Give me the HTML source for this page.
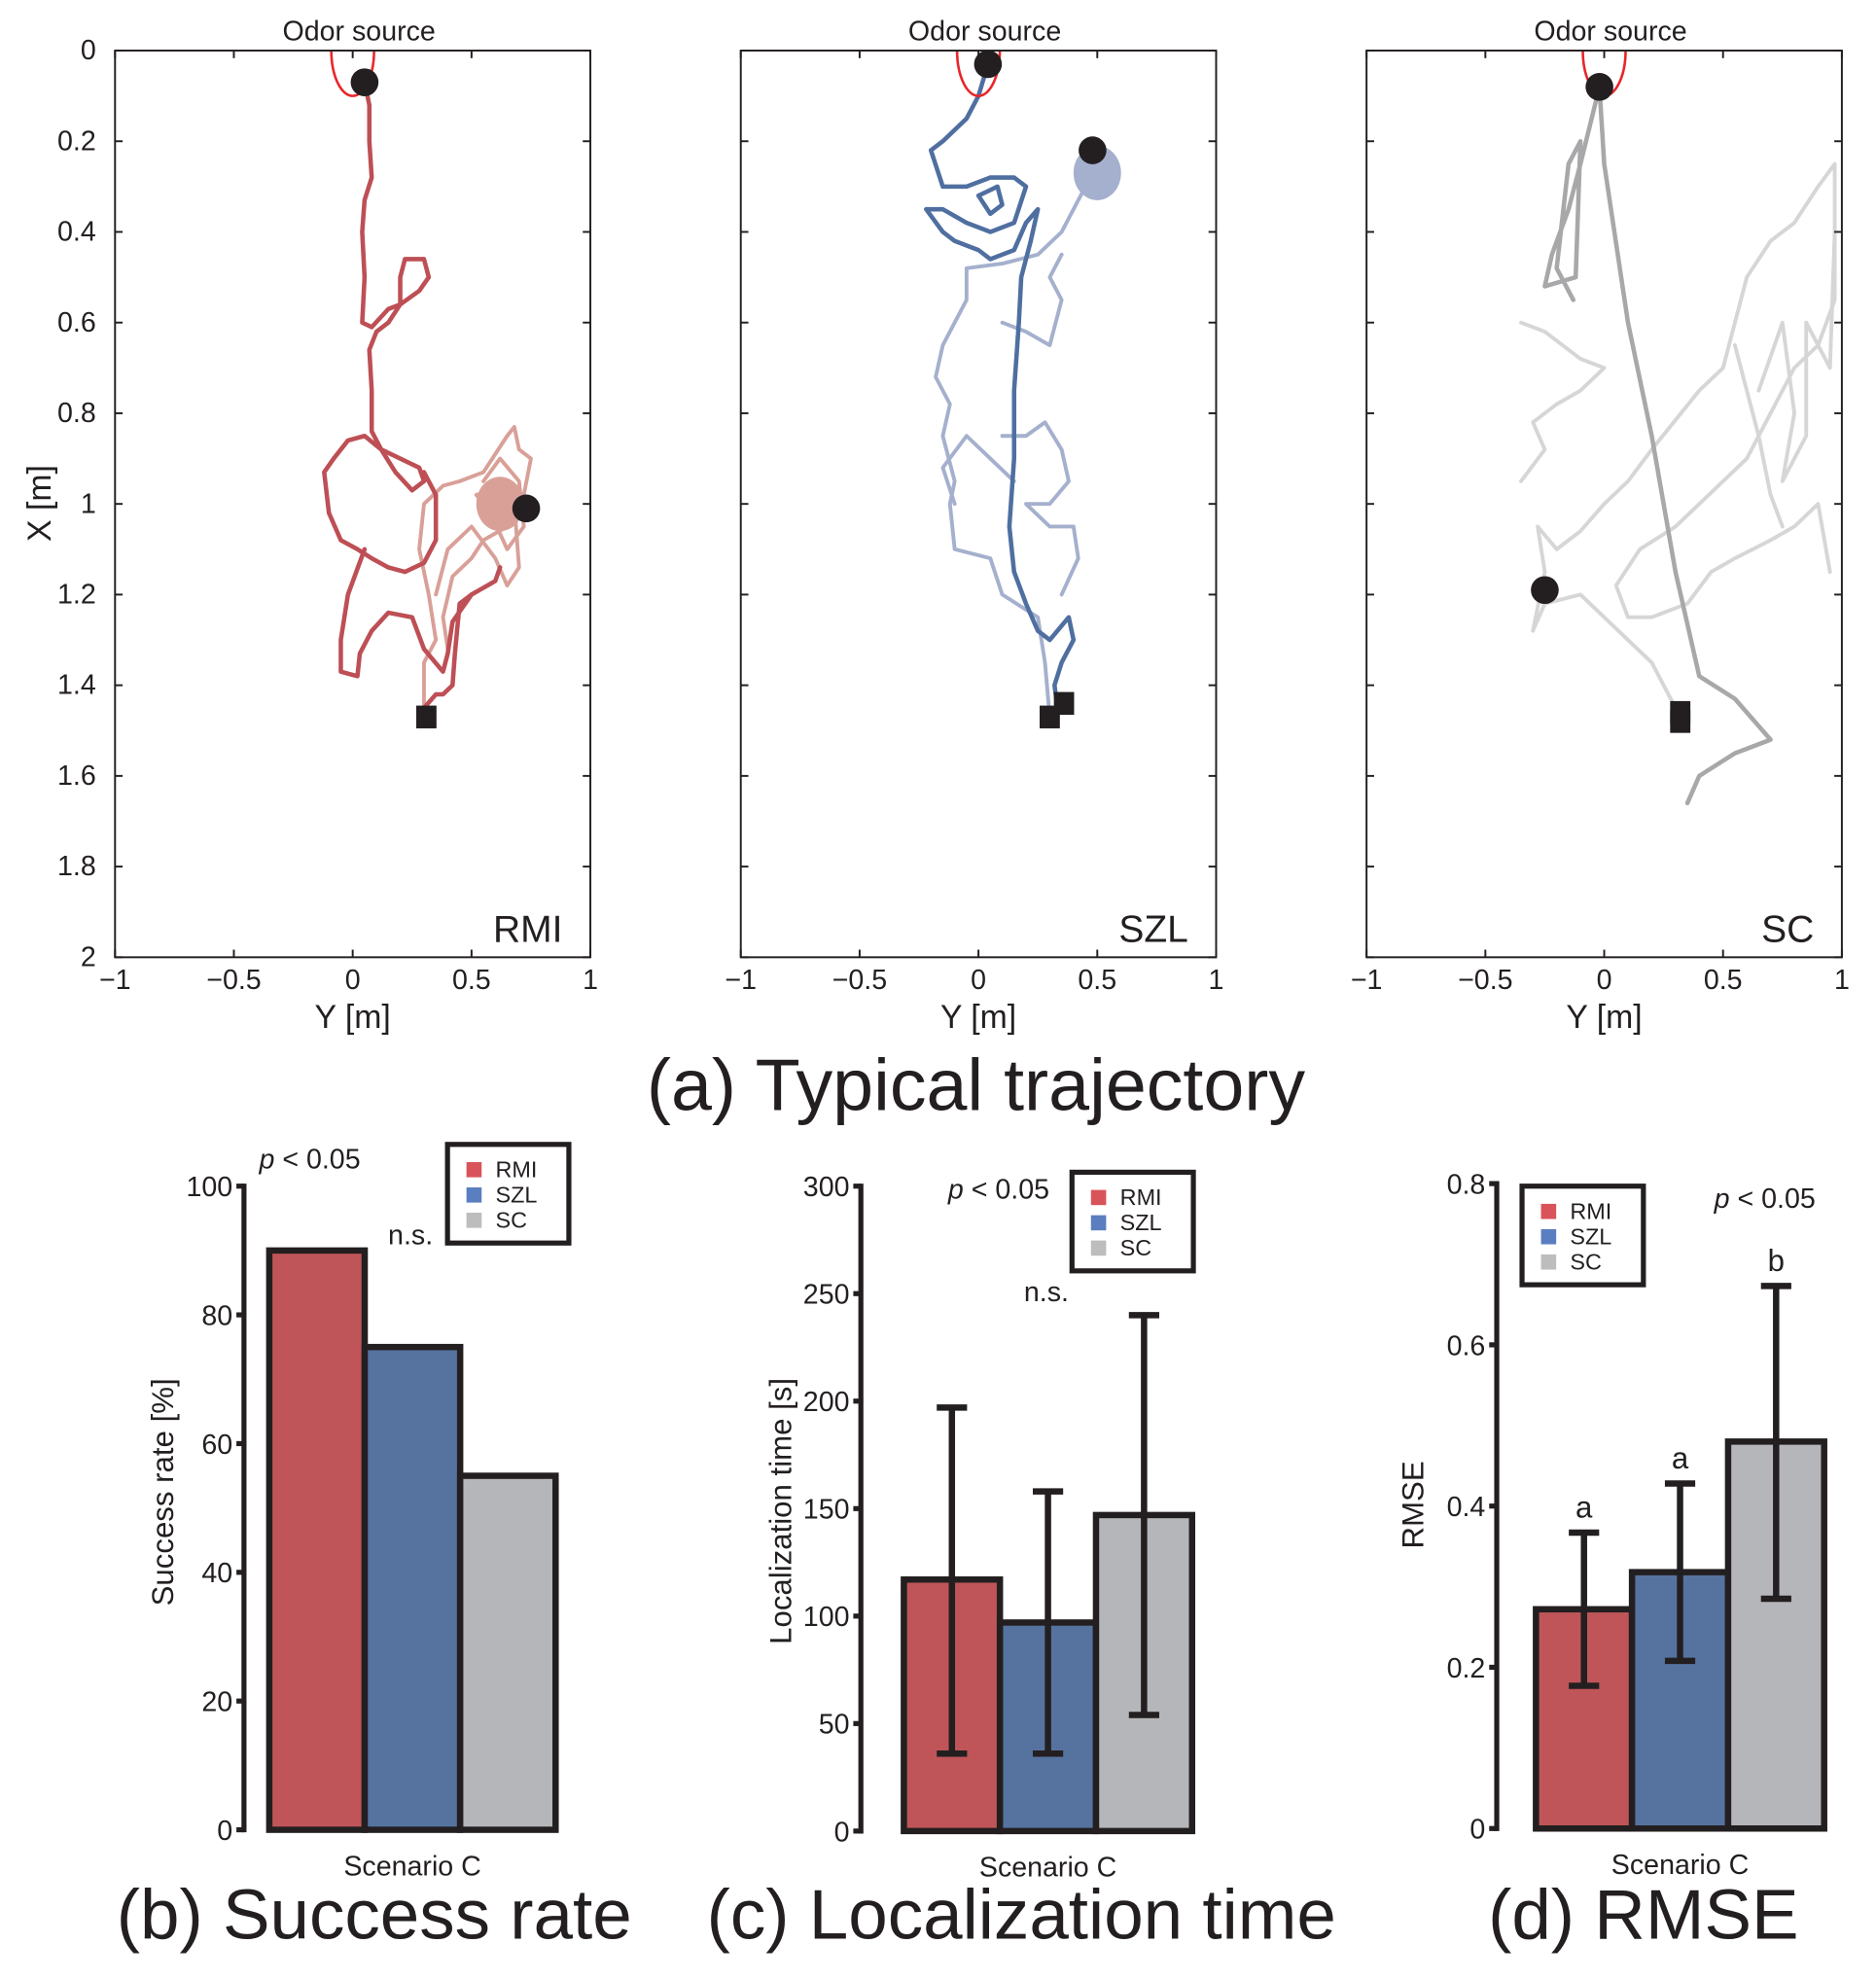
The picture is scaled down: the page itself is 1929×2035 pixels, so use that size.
<!DOCTYPE html>
<html><head><meta charset="utf-8"><style>
html,body{margin:0;padding:0;background:#fff}
svg{display:block}
text{font-family:"Liberation Sans",Arial,sans-serif;fill:#231f20}
</style></head><body>
<svg id="fig" width="1929" height="2035" viewBox="0 0 1484 1565" preserveAspectRatio="none" xmlns="http://www.w3.org/2000/svg"></svg>
<script>
// ---------- data ----------
const trajPanels = ["RMI","SZL","SC"];
const yTicksA = [0,0.2,0.4,0.6,0.8,1,1.2,1.4,1.6,1.8,2];
const yTickLabelsA = ["0","0.2","0.4","0.6","0.8","1","1.2","1.4","1.6","1.8","2"];
const xTicksA = [-1,-0.5,0,0.5,1];
const xTickLabelsA = ["\u22121","\u22120.5","0","0.5","1"];
const rmiDark1 = [[0.05,0.07],[0.07,0.12],[0.07,0.2],[0.08,0.28],[0.05,0.33],[0.04,0.4],[0.05,0.5],[0.04,0.6],[0.08,0.61],[0.15,0.57],[0.2,0.56],[0.28,0.53],[0.32,0.5],[0.3,0.46],[0.22,0.46],[0.2,0.5],[0.2,0.56],[0.15,0.6],[0.1,0.62],[0.07,0.66],[0.08,0.75],[0.08,0.84],[0.12,0.88],[0.2,0.9],[0.28,0.92],[0.3,0.95],[0.25,0.97],[0.18,0.93],[0.12,0.88],[0.05,0.85],[-0.02,0.86],[-0.08,0.9],[-0.12,0.93],[-0.1,1.02],[-0.05,1.08],[0.02,1.1],[0.08,1.12],[0.15,1.14],[0.22,1.15],[0.3,1.13],[0.35,1.08],[0.35,0.98],[0.3,0.93]];
const rmiDark2 = [[0.05,1.1],[-0.02,1.2],[-0.05,1.3],[-0.05,1.37],[0.02,1.38],[0.03,1.33],[0.08,1.28],[0.15,1.24],[0.25,1.25],[0.3,1.32],[0.38,1.37],[0.4,1.33],[0.42,1.26],[0.5,1.2],[0.6,1.17],[0.62,1.14]];
const rmiDark3 = [[0.3,1.45],[0.35,1.42],[0.38,1.42],[0.42,1.4],[0.43,1.33],[0.45,1.22],[0.5,1.2]];
const rmiLight1 = [[0.3,1.45],[0.3,1.35],[0.35,1.3],[0.32,1.2],[0.28,1.1],[0.3,1.0],[0.38,0.96],[0.45,0.95],[0.55,0.93],[0.65,0.85],[0.68,0.83],[0.7,0.88],[0.75,0.9],[0.72,0.98],[0.65,1.05],[0.55,1.08],[0.5,1.12],[0.42,1.16],[0.38,1.25],[0.4,1.32]];
const rmiLight2 = [[0.55,0.95],[0.62,0.9],[0.7,0.95],[0.72,1.05],[0.65,1.1],[0.58,1.02],[0.52,0.98],[0.6,0.97],[0.68,1.0],[0.7,1.14],[0.65,1.18],[0.6,1.12],[0.5,1.05],[0.4,1.1],[0.35,1.2]];
const szlDark1 = [[0.04,0.03],[0.0,0.1],[-0.05,0.15],[-0.15,0.2],[-0.2,0.22],[-0.15,0.3],[-0.05,0.3],[0.05,0.28],[0.15,0.28],[0.2,0.3],[0.15,0.38],[0.05,0.4],[-0.05,0.38],[-0.15,0.35],[-0.22,0.35],[-0.15,0.4],[-0.1,0.42],[0.0,0.44],[0.05,0.46],[0.15,0.44],[0.2,0.38],[0.25,0.35],[0.22,0.42],[0.18,0.5],[0.17,0.6],[0.15,0.75],[0.15,0.9],[0.13,1.05],[0.15,1.15],[0.2,1.22],[0.25,1.28],[0.3,1.3],[0.38,1.25],[0.4,1.3],[0.35,1.35],[0.32,1.4],[0.33,1.44]];
const szlDark2 = [[0.0,0.32],[0.05,0.36],[0.1,0.34],[0.08,0.3],[0.0,0.32]];
const szlLight1 = [[0.3,1.47],[0.28,1.35],[0.25,1.25],[0.1,1.2],[0.05,1.12],[-0.1,1.1],[-0.12,1.0],[-0.1,0.95],[-0.15,0.85],[-0.12,0.78],[-0.18,0.72],[-0.15,0.65],[-0.1,0.6],[-0.05,0.55],[-0.05,0.48],[0.1,0.47],[0.25,0.45],[0.35,0.4],[0.4,0.35],[0.45,0.3],[0.5,0.25],[0.45,0.22]];
const szlLight2 = [[0.1,0.6],[0.2,0.62],[0.3,0.65],[0.35,0.55],[0.3,0.5],[0.35,0.45]];
const szlLight3 = [[0.1,0.85],[0.2,0.85],[0.28,0.82],[0.35,0.88],[0.38,0.95],[0.3,1.0],[0.2,1.0],[0.3,1.05],[0.4,1.05],[0.42,1.12],[0.35,1.2]];
const szlLight4 = [[0.15,0.95],[0.05,0.9],[-0.05,0.85],[-0.15,0.92],[-0.1,1.0]];
const scDark1 = [[-0.02,0.08],[-0.1,0.25],[-0.15,0.35],[-0.22,0.45],[-0.25,0.52],[-0.12,0.5],[-0.1,0.2],[-0.15,0.25],[-0.2,0.48],[-0.13,0.55]];
const scDark2 = [[-0.02,0.08],[0.0,0.25],[0.1,0.6],[0.2,0.85],[0.3,1.15],[0.4,1.38],[0.55,1.43],[0.7,1.52],[0.55,1.55],[0.4,1.6],[0.35,1.66]];
const scLight1 = [[0.32,1.47],[0.2,1.35],[0.1,1.3],[0.0,1.25],[-0.1,1.2],[-0.25,1.22],[-0.3,1.28],[-0.25,1.15],[-0.28,1.05],[-0.2,1.1],[-0.1,1.06],[0.0,1.0],[0.1,0.95],[0.2,0.88],[0.4,0.75],[0.5,0.7],[0.55,0.6],[0.6,0.5],[0.7,0.42],[0.8,0.38],[0.9,0.3],[0.97,0.25],[0.97,0.55],[0.9,0.65],[0.8,0.7],[0.7,0.8],[0.6,0.9],[0.5,0.95],[0.4,1.0],[0.3,1.05],[0.15,1.1],[0.05,1.18],[0.1,1.25],[0.2,1.25],[0.35,1.22],[0.45,1.15],[0.55,1.12],[0.7,1.08],[0.8,1.05],[0.9,1.0],[0.95,1.15]];
const scLight2 = [[-0.35,0.95],[-0.25,0.88],[-0.3,0.82],[-0.2,0.78],[-0.1,0.75],[0.0,0.7],[-0.1,0.68],[-0.25,0.62],[-0.35,0.6]];
const scLight3 = [[0.55,0.65],[0.6,0.75],[0.65,0.85],[0.7,0.98],[0.75,1.05]];
const scLight4 = [[0.65,0.75],[0.75,0.6],[0.8,0.8],[0.75,0.95],[0.85,0.85],[0.85,0.6],[0.95,0.7],[0.97,0.4]];
const circlesA = [[[0.05,0.07],[0.73,1.01]],[[0.04,0.03],[0.48,0.22]],[[-0.02,0.08],[-0.25,1.19]]];
const squaresA = [[[0.31,1.47]],[[0.3,1.47],[0.36,1.44]],[[0.32,1.46],[0.32,1.48]]];

const barCats = ["RMI","SZL","SC"];
const successVals = [90,75,55];
const successTicks = [0,20,40,60,80,100];
const timeVals = [117,97,147];
const timeLow = [36,36,54];
const timeHigh = [197,158,240];
const timeTicks = [0,50,100,150,200,250,300];
const rmseVals = [0.272,0.318,0.48];
const rmseLow = [0.177,0.208,0.285];
const rmseHigh = [0.367,0.428,0.673];
const rmseTicks = [0,0.2,0.4,0.6,0.8];
const rmseTickLabels = ["0","0.2","0.4","0.6","0.8"];
const rmseLetters = ["a","a","b"];

// ---------- helpers ----------
const NS="http://www.w3.org/2000/svg";
const svg=document.getElementById('fig');
function el(tag,attrs,parent,text){const e=document.createElementNS(NS,tag);for(const k in attrs)e.setAttribute(k,attrs[k]);if(text!==undefined)e.textContent=text;(parent||svg).appendChild(e);return e;}

// ---------- trajectory panels ----------
const panelsA=[{L:91,R:467},{L:586,R:962},{L:1081,R:1457}];
const T=40,B=757;
const trajSets=[
 [[rmiLight1,'#d9a098',3],[rmiLight2,'#d9a098',3],[rmiDark1,'#bd4f55',3.5],[rmiDark2,'#bd4f55',3.5],[rmiDark3,'#bd4f55',3.5]],
 [[szlLight1,'#a4b0cd',3],[szlLight2,'#a4b0cd',3],[szlLight3,'#a4b0cd',3],[szlLight4,'#a4b0cd',3],[szlDark1,'#4f6fa0',3.5],[szlDark2,'#4f6fa0',3.5]],
 [[scLight1,'#d6d6d6',3],[scLight2,'#d6d6d6',3],[scLight3,'#d6d6d6',3],[scLight4,'#d6d6d6',3],[scDark1,'#a8a8aa',3.5],[scDark2,'#a8a8aa',3.5]]
];
const blobs=[[0.62,1.0,'#d9a098'],[0.5,0.27,'#a4b0cd'],null];
panelsA.forEach((p,i)=>{
  const g=el('g',{});
  
  
  const sx=v=>p.L+(v+1)/2*(p.R-p.L);
  const sy=v=>T+v/2*(B-T);
  const clip=el('clipPath',{id:'c'+i},g);el('rect',{x:p.L,y:T,width:p.R-p.L,height:B-T},clip);
  const dg=el('g',{'clip-path':'url(#c'+i+')'},g);
  if(blobs[i]){const bl=el('ellipse',{cx:sx(blobs[i][0]),cy:sy(blobs[i][1]),rx:(p.R-p.L)*0.05,ry:(B-T)*0.03,fill:blobs[i][2]},dg);}
  trajSets[i].forEach(([pts,c,w],k)=>{
    const pl=el('polyline',{points:pts.map(q=>sx(q[0])+','+sy(q[1])).join(' '),fill:'none',stroke:c,'stroke-width':w,'stroke-linejoin':'round','stroke-linecap':'round'},dg);
    
    
  });
  const oe=el('path',{d:`M${sx(-0.09)},${T} A${sx(0.09)-sx(0)},${sy(0.1)-sy(0)} 0 0 0 ${sx(0.09)},${T}`,fill:'none',stroke:'#e8262b','stroke-width':2},g);
  
  circlesA[i].forEach(q=>{const c=el('circle',{cx:sx(q[0]),cy:sy(q[1]),r:11,fill:'#231f20'},g);});
  squaresA[i].forEach(q=>{const s=el('rect',{x:sx(q[0])-8,y:sy(q[1])-9,width:16,height:18,fill:'#231f20'},g);});
  const fr=el('rect',{x:p.L,y:T,width:p.R-p.L,height:B-T,fill:'none',stroke:'#231f20','stroke-width':1.5},g);
  
  yTicksA.forEach((v,k)=>{
    el('line',{x1:p.L,x2:p.L+6,y1:sy(v),y2:sy(v),stroke:'#231f20','stroke-width':1.5},g);
    el('line',{x1:p.R,x2:p.R-6,y1:sy(v),y2:sy(v),stroke:'#231f20','stroke-width':1.5},g);
    if(i===0){const t=el('text',{x:p.L-15,y:sy(v)+7,'text-anchor':'end','font-size':22},g,yTickLabelsA[k]);}
  });
  xTicksA.forEach((v,k)=>{
    el('line',{x1:sx(v),x2:sx(v),y1:B,y2:B-6,stroke:'#231f20','stroke-width':1.5},g);
    el('line',{x1:sx(v),x2:sx(v),y1:T,y2:T+6,stroke:'#231f20','stroke-width':1.5},g);
    const t=el('text',{x:sx(v),y:B+25,'text-anchor':'middle','font-size':22},g,xTickLabelsA[k]);
  });
  let t=el('text',{x:sx(0),y:B+56,'text-anchor':'middle','font-size':26},g,'Y [m]');
  t=el('text',{x:sx(0)+5,y:T-8,'text-anchor':'middle','font-size':22},g,'Odor source');
  t=el('text',{x:p.R-22,y:B-12,'text-anchor':'end','font-size':30},g,trajPanels[i]);
});
let tt=el('text',{x:40,y:398,'text-anchor':'middle','font-size':26,transform:'rotate(-90 40 398)'},null,'X [m]');

tt=el('text',{x:772,y:878,'text-anchor':'middle','font-size':58},null,'(a) Typical trajectory');


// ---------- bar charts ----------
const colors=['#bf5558','#5673a0','#b5b6ba'];
const legendColors=['#d9545a','#5a7ec0','#bdbdbd'];
function barChart(o){
  const g=el('g',{});
  
  
  const sy=v=>o.y0-(v-o.min)/(o.max-o.min)*(o.y0-o.y1);
  const ax=el('line',{x1:o.ax,x2:o.ax,y1:o.y1-2,y2:o.y0+2,stroke:'#231f20','stroke-width':4},g);
  
  o.ticks.forEach((v,k)=>{
    el('line',{x1:o.ax-6,x2:o.ax,y1:sy(v),y2:sy(v),stroke:'#231f20','stroke-width':4},g);
    const t=el('text',{x:o.ax-9,y:sy(v)+8,'text-anchor':'end','font-size':22},g,o.tickLabels?o.tickLabels[k]:String(v));
    
  });
  o.vals.forEach((v,k)=>{
    const x=o.bx+k*o.bw;
    const r=el('rect',{x:x,y:sy(v),width:o.bw,height:sy(o.min)-sy(v),fill:colors[k],stroke:'#231f20','stroke-width':5},g);
    
    if(o.lo){
      const cx=x+o.bw/2;
      const e=el('g',{},g);
      el('line',{x1:cx,x2:cx,y1:sy(o.hi[k]),y2:sy(o.lo[k]),stroke:'#231f20','stroke-width':5},e);
      el('line',{x1:cx-12,x2:cx+12,y1:sy(o.hi[k]),y2:sy(o.hi[k]),stroke:'#231f20','stroke-width':5},e);
      el('line',{x1:cx-12,x2:cx+12,y1:sy(o.lo[k]),y2:sy(o.lo[k]),stroke:'#231f20','stroke-width':5},e);
      if(o.letters){const t=el('text',{x:cx,y:sy(o.hi[k])-12,'text-anchor':'middle','font-size':24},g,o.letters[k]);}
    }
  });
  const lg=el('g',{},g);
  el('rect',{x:o.lx,y:o.ly,width:96,height:78,fill:'#fff',stroke:'#231f20','stroke-width':4},lg);
  barCats.forEach((c,k)=>{
    const e=el('g',{},lg);
    el('rect',{x:o.lx+15,y:o.ly+14+k*20,width:12,height:12,fill:legendColors[k]},e);
    el('text',{x:o.lx+38,y:o.ly+26+k*20,'font-size':18},e,c);
  });
  let t=el('text',{x:o.bx+1.5*o.bw,y:o.y0+36,'text-anchor':'middle','font-size':22},g,'Scenario C');
  t=el('text',{x:o.ytx,y:o.yty,'text-anchor':'middle','font-size':24,transform:`rotate(-90 ${o.ytx} ${o.yty})`},g,o.ytitle);
  t=el('text',{x:o.px,y:o.py,'font-size':22},g);
  el('tspan',{'font-style':'italic'},t,'p');el('tspan',{},t,' < 0.05');
  if(o.nsx){t=el('text',{x:o.nsx,y:o.nsy,'font-size':22},g,'n.s.');}
  t=el('text',{x:o.tx,y:1533,'text-anchor':'middle','font-size':56},g,o.title);
}
barChart({name:'success-rate-chart',ax:193,y0:1447,y1:938,min:0,max:100,ticks:successTicks,vals:successVals,bx:213,bw:75.5,lx:354,ly:905,ytitle:'Success rate [%]',ytx:137,yty:1180,px:205,py:924,nsx:307,nsy:984,tx:296,title:'(b) Success rate'});
barChart({name:'localization-time-chart',ax:681,y0:1448,y1:938,min:0,max:300,ticks:timeTicks,vals:timeVals,lo:timeLow,hi:timeHigh,bx:715,bw:76,lx:848,ly:927,ytitle:'Localization time [s]',ytx:626,yty:1195,px:750,py:948,nsx:810,nsy:1029,tx:808,title:'(c) Localization time'});
barChart({name:'rmse-chart',ax:1184,y0:1446,y1:936,min:0,max:0.8,ticks:rmseTicks,tickLabels:rmseTickLabels,vals:rmseVals,lo:rmseLow,hi:rmseHigh,letters:rmseLetters,bx:1215,bw:76,lx:1204,ly:938,ytitle:'RMSE',ytx:1126,yty:1190,px:1356,py:955,tx:1300,title:'(d) RMSE'});
</script>
</body></html>
